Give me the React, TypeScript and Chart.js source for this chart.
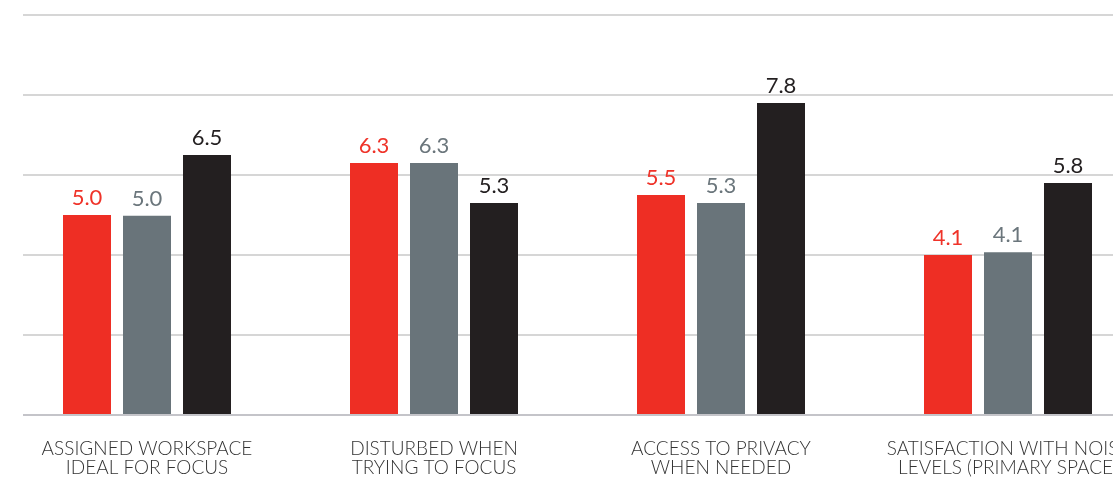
import React, { useEffect, useRef } from "react";
import { Chart, registerables } from "chart.js";

Chart.register(...registerables);

// ---- data ----
const categories: string[][] = [
  ["ASSIGNED WORKSPACE", "IDEAL FOR FOCUS"],
  ["DISTURBED WHEN", "TRYING TO FOCUS"],
  ["ACCESS TO PRIVACY", "WHEN NEEDED"],
  ["SATISFACTION WITH NOISE", "LEVELS (PRIMARY SPACE)"],
];
const positions = [0, 1, 2, 3];
const redValues = [5.0, 6.3, 5.5, 4.0];
const grayValues = [4.98, 6.3, 5.3, 4.07];
const blackValues = [6.5, 5.3, 7.8, 5.8];
const redLabels = ["5.0", "6.3", "5.5", "4.1"];
const grayLabels = ["5.0", "6.3", "5.3", "4.1"];
const blackLabels = ["6.5", "5.3", "7.8", "5.8"];
const yTicks = [0, 2, 4, 6, 8, 10];

const RED = "#EE2E24";
const GRAY = "#69747A";
const BLACK = "#231F20";
const FONT = "Lato, 'Open Sans', sans-serif";

const seriesLabels = [redLabels, grayLabels, blackLabels];
const seriesLabelColors = ["#EF3329", "#6B767C", "#231F20"];

const valueLabelPlugin = {
  id: "valueLabels",
  afterDatasetsDraw(chart: any) {
    const ctx = chart.ctx;
    chart.data.datasets.forEach((_ds: any, di: number) => {
      const meta = chart.getDatasetMeta(di);
      meta.data.forEach((el: any, i: number) => {
        ctx.save();
        ctx.font = `400 22px ${FONT}`;
        ctx.fillStyle = seriesLabelColors[di];
        ctx.textAlign = "center";
        ctx.textBaseline = "alphabetic";
        ctx.fillText(seriesLabels[di][i], el.x, el.y - 10);
        ctx.restore();
      });
    });
  },
};

const CANVAS_W = 1180;
const CANVAS_H = 477;

export default function App() {
  const ref = useRef<HTMLCanvasElement | null>(null);

  useEffect(() => {
    if (!ref.current) return;
    const mk = (vals: number[]) => positions.map((x, i) => ({ x, y: vals[i] }));
    const chart = new Chart(ref.current, {
      type: "bar",
      data: {
        datasets: [
          { label: "A", data: mk(redValues) as any, backgroundColor: RED },
          { label: "B", data: mk(grayValues) as any, backgroundColor: GRAY },
          { label: "C", data: mk(blackValues) as any, backgroundColor: BLACK },
        ],
      },
      options: {
        responsive: false,
        animation: false,
        datasets: { bar: { categoryPercentage: 180 / 287, barPercentage: 0.8 } } as any,
        layout: { padding: { left: 23, top: 15, right: 0, bottom: 0 } },
        plugins: { legend: { display: false }, tooltip: { enabled: false } },
        scales: {
          x: {
            type: "linear",
            offset: false,
            min: -124 / 287,
            max: (CANVAS_W - 147) / 287,
            grid: { display: false },
            border: { display: false },
            afterBuildTicks: (axis: any) => {
              axis.ticks = positions.map((v) => ({ value: v }));
            },
            afterFit: (axis: any) => {
              axis.height = 62;
            },
            ticks: {
              autoSkip: false,
              maxRotation: 0,
              minRotation: 0,
              padding: 16,
              color: "#333333",
              font: { family: FONT, size: 19, weight: "300" as any, lineHeight: 19 / 19 },
              callback: (v: any) => categories[positions.indexOf(Number(v))] ?? "",
            },
          },
          y: {
            min: 0,
            max: 10,
            afterBuildTicks: (axis: any) => {
              axis.ticks = yTicks.map((v) => ({ value: v }));
            },
            ticks: { display: false },
            border: { display: false },
            grid: {
              drawTicks: false,
              lineWidth: 2,
              color: (c: any) => (c.tick && c.tick.value === 0 ? "#c4c4c9" : "#d6d6d6"),
            },
          },
        },
      },
      plugins: [valueLabelPlugin],
    });
    return () => chart.destroy();
  }, []);

  return (
    <div
      style={{
        position: "fixed",
        left: 0,
        top: 0,
        width: 1113,
        height: 477,
        overflow: "hidden",
        background: "#fff",
      }}
    >
      <canvas
        ref={ref}
        width={CANVAS_W}
        height={CANVAS_H}
        style={{ width: CANVAS_W, height: CANVAS_H, display: "block" }}
      />
    </div>
  );
}
